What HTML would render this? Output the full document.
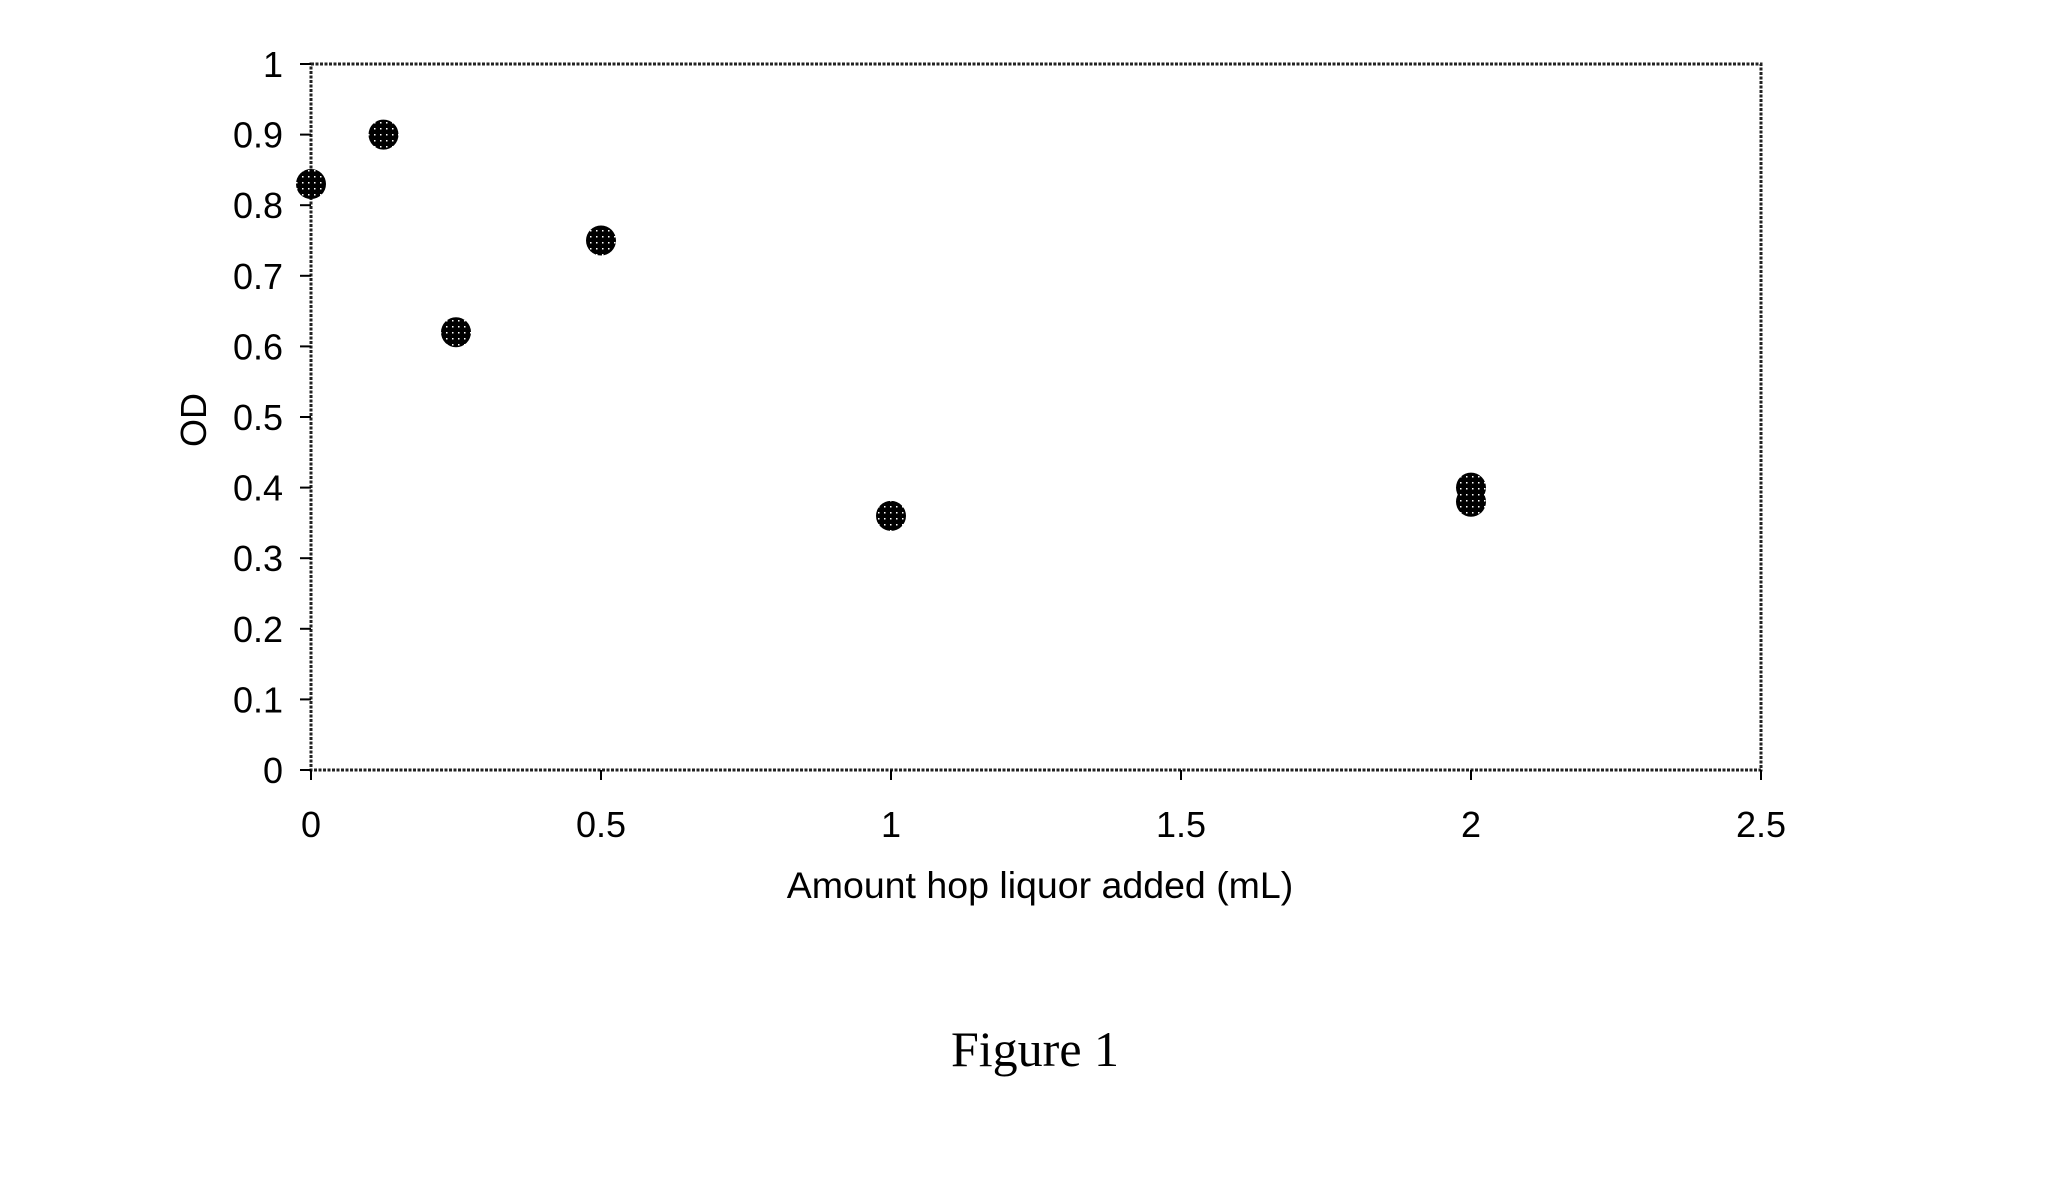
<!DOCTYPE html>
<html><head><meta charset="utf-8"><style>
html,body{margin:0;padding:0;background:#fff;}
svg{display:block;}
text{font-family:"Liberation Sans",Arial,sans-serif;fill:#000;}
</style></head><body>
<svg id="chart" width="2048" height="1178" viewBox="0 0 2048 1178" xmlns="http://www.w3.org/2000/svg">
<defs>
<pattern id="dots" width="6" height="6" patternUnits="userSpaceOnUse">
<rect width="6" height="6" fill="#000"/>
<rect x="2" y="2" width="1.5" height="1.5" fill="#fff"/>
</pattern>
</defs>
<g id="plot"></g>
<text x="1040" y="898" font-size="37.5" text-anchor="middle">Amount hop liquor added (mL)</text>
<text x="206" y="420" font-size="36" text-anchor="middle" transform="rotate(-90 206 420)">OD</text>
<text x="1035" y="1066" font-size="50" text-anchor="middle" style="font-family:'Liberation Serif',serif">Figure 1</text>
</svg>
<script>
const xValues = [0, 0.125, 0.25, 0.5, 1, 2, 2];
const yValues = [0.83, 0.90, 0.62, 0.75, 0.36, 0.40, 0.38];
const xTicks = [0, 0.5, 1, 1.5, 2, 2.5];
const xTickLabels = ["0", "0.5", "1", "1.5", "2", "2.5"];
const yTicks = [0, 0.1, 0.2, 0.3, 0.4, 0.5, 0.6, 0.7, 0.8, 0.9, 1];
const yTickLabels = ["0", "0.1", "0.2", "0.3", "0.4", "0.5", "0.6", "0.7", "0.8", "0.9", "1"];

const L=311,R=1761,T=64,B=770;
const sx=v=>L+(v-0)/(2.5-0)*(R-L);
const sy=v=>B-(v-0)/(1-0)*(B-T);
const NS="http://www.w3.org/2000/svg";
const g=document.getElementById('plot');
function mk(tag,attrs){const e=document.createElementNS(NS,tag);for(const k in attrs)e.setAttribute(k,attrs[k]);g.appendChild(e);return e;}

const frame=mk('rect',{x:L,y:T,width:R-L,height:B-T,fill:'none',stroke:'#222','stroke-width':3,'stroke-dasharray':'3,1.5'});



xTicks.forEach((t,i)=>{
  const x=sx(t);
  const ln=mk('line',{x1:x,x2:x,y1:B,y2:B+10,stroke:'#000','stroke-width':2});
  
  
  const tx=mk('text',{x:x,y:B+67,'font-size':36,'text-anchor':'middle'});
  tx.textContent=xTickLabels[i];
  
  
});
yTicks.forEach((t,i)=>{
  const y=sy(t);
  const ln=mk('line',{x1:L-11,x2:L,y1:y,y2:y,stroke:'#000','stroke-width':2});
  
  
  const tx=mk('text',{x:283,y:y+13,'font-size':36,'text-anchor':'end'});
  tx.textContent=yTickLabels[i];
  
  
});
xValues.forEach((v,i)=>{
  const c=mk('circle',{cx:sx(v),cy:sy(yValues[i]),r:15,fill:'url(#dots)'});
  
  
});
</script>
</body></html>
